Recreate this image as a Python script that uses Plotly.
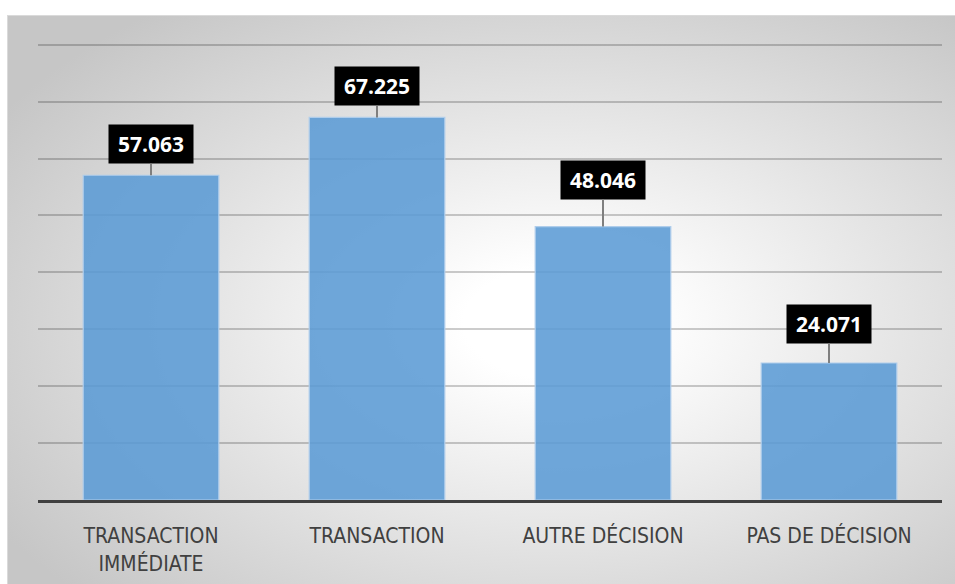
import base64
import plotly.graph_objects as go

# ---- data ----
categories = ["TRANSACTION IMMÉDIATE", "TRANSACTION", "AUTRE DÉCISION", "PAS DE DÉCISION"]
tick_labels = ["TRANSACTION<br>IMMÉDIATE", "TRANSACTION", "AUTRE DÉCISION", "PAS DE DÉCISION"]
values = [57063, 67225, 48046, 24071]
grid_ticks = [10000, 20000, 30000, 40000, 50000, 60000, 70000, 80000]

# label offsets (pixels above bar top for the black label boxes)
label_offsets = [-31, -31, -47, -39]

W, H = 955, 584
L, R, T, B = 38, 13, 39, 84
YMAX = 81000
pw, ph = W - L - R, H - T - B

# ---- background: white page + chart area with radial gradient (inline SVG) ----
svg = (
    f"<svg xmlns='http://www.w3.org/2000/svg' width='{W}' height='{H}' "
    f"viewBox='0 0 {W} {H}' preserveAspectRatio='none'>"
    "<defs><radialGradient id='g' cx='0.57' cy='0.53' r='0.68' "
    "gradientUnits='objectBoundingBox'>"
    "<stop offset='0' stop-color='#ffffff'/>"
    "<stop offset='0.14' stop-color='#ffffff'/>"
    "<stop offset='1' stop-color='#c6c6c6'/>"
    "</radialGradient></defs>"
    f"<rect x='0' y='0' width='{W}' height='{H}' fill='#ffffff'/>"
    "<rect x='7.5' y='15.5' width='960' height='580' fill='url(#g)' "
    "stroke='#dadada' stroke-width='1'/></svg>"
)
svg_uri = "data:image/svg+xml;base64," + base64.b64encode(svg.encode()).decode()


def px_x(p):  # page x -> paper x
    return (p - L) / pw


def px_y(p):  # page y -> paper y
    return (H - B - p) / ph


fig = go.Figure()
fig.add_trace(go.Bar(
    x=categories,
    y=values,
    marker=dict(color="rgba(91,155,213,0.88)",
                line=dict(color="rgba(175,205,235,1)", width=1.2)),
    hoverinfo="skip",
))

for cat, v, off in zip(categories, values, label_offsets):
    fig.add_annotation(
        x=cat, y=v, xref="x", yref="y",
        text=f"{v:,}".replace(",", "."),
        showarrow=True, arrowhead=0, arrowwidth=2, arrowcolor="#7f7f7f",
        ax=0, ay=off, standoff=0,
        bgcolor="#000000", width=80, height=34, borderpad=2,
        font=dict(family="Open Sans, DejaVu Sans, sans-serif", size=21,
                  color="#ffffff", weight="bold"),
    )

fig.update_layout(
    width=W, height=H,
    margin=dict(l=L, r=R, t=T, b=B, pad=0, autoexpand=False),
    paper_bgcolor="#d2d2d2",
    plot_bgcolor="rgba(0,0,0,0)",
    bargap=0.4,
    showlegend=False,
    images=[dict(
        source=svg_uri, xref="paper", yref="paper",
        x=px_x(0), y=px_y(0),
        sizex=W / pw, sizey=H / ph,
        xanchor="left", yanchor="top", sizing="stretch", layer="below",
    )],
    xaxis=dict(
        tickmode="array", tickvals=categories, ticktext=tick_labels,
        tickfont=dict(family="Liberation Sans Narrow, Arial Narrow, DejaVu Sans Condensed, sans-serif",
                      size=21, color="#404040"),
        showline=True, linecolor="#404040", linewidth=3,
        ticks="", showgrid=False, zeroline=False,
        ticklabelstandoff=15, automargin=False,
    ),
    yaxis=dict(
        range=[0, YMAX], tickvals=grid_ticks,
        showticklabels=False, ticks="",
        showgrid=True, gridcolor="rgba(0,0,0,0.2)", gridwidth=1.5,
        zeroline=False, showline=False, automargin=False,
    ),
)

fig.write_html(
    "out.html",
    config={"displayModeBar": False},
    post_script="document.body.style.margin='0px';"
                "document.documentElement.style.overflow='hidden';"
                "document.body.style.overflow='hidden';",
)
